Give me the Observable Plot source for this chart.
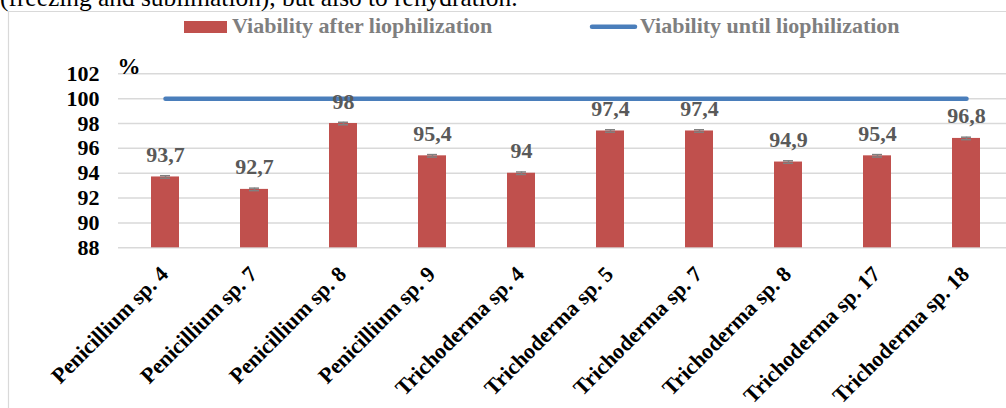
<!DOCTYPE html>
<html><head><meta charset="utf-8">
<script src="https://cdn.jsdelivr.net/npm/d3@7"></script>
<script src="https://cdn.jsdelivr.net/npm/@observablehq/plot@0.6"></script>
<style>
html,body{margin:0;padding:0;background:#fff;}
#wrap{position:relative;width:1006px;height:408px;overflow:hidden;font-family:"Liberation Serif","Times New Roman",serif;}
#wrap svg{position:absolute;left:0;top:0;}
</style></head><body><div id="wrap"></div>
<script>
// ---- data ----
const strains = ["Penicillium sp. 4","Penicillium sp. 7","Penicillium sp. 8","Penicillium sp. 9","Trichoderma sp. 4","Trichoderma sp. 5","Trichoderma sp. 7","Trichoderma sp. 8","Trichoderma sp. 17","Trichoderma sp. 18"];
const afterValues = [93.7, 92.7, 98, 95.4, 94, 97.4, 97.4, 94.9, 95.4, 96.8];
const untilValues = [100, 100, 100, 100, 100, 100, 100, 100, 100, 100];
const errValues = [0.1, 0.1, 0.1, 0.1, 0.1, 0.1, 0.1, 0.1, 0.1, 0.1];
const yTicks = [88, 90, 92, 94, 96, 98, 100, 102];
const seriesNames = ["Viability after liophilization", "Viability until liophilization"];
const yUnit = "%";
const contextText = "(freezing and sublimation), but also to rehydration.";

// ---- styles ----
const font = '"Liberation Serif","Times New Roman",serif';
const colAfter = "#c0504d";
const colUntil = "#4a7ebb";

const data = strains.map((s, i) => ({
  strain: s, after: afterValues[i], until: untilValues[i], err: errValues[i],
  label: String(afterValues[i]).replace(".", ",")
}));

const wrap = document.getElementById("wrap");

// background decoration: clipped context text (cut by the page edge as in the source) + chart frame
const deco = d3.create("svg").attr("width", 1006).attr("height", 408);
deco.append("text").attr("x", 0).attr("y", 5.5).attr("font-family", font).attr("font-size", 25.4).attr("fill", "#000").text(contextText);
deco.append("path").attr("d", "M8.5,408V11.5H1006").attr("fill", "none").attr("stroke", "#d9d9d9").attr("stroke-width", 1.2);
wrap.appendChild(deco.node());

const txt = {fontFamily: font, fontSize: 22, fontWeight: "bold"};

const chart = Plot.plot({
  width: 1006, height: 408,
  marginLeft: 118, marginRight: 0, marginTop: 73, marginBottom: 161,
  style: {background: "transparent", fontFamily: font, overflow: "visible"},
  x: {domain: strains, range: [118.3, 1012.3], paddingInner: 0.687, paddingOuter: 0.3435, axis: null},
  y: {domain: [88, 102], range: [247.3, 73.3], axis: null},
  marks: [
    Plot.gridY(yTicks, {stroke: "#d9d9d9", strokeOpacity: 1, strokeWidth: 1.5}),
    Plot.barY(data, {x: "strain", y1: 88, y2: "after", fill: colAfter}),
    Plot.ruleX(data, {x: "strain", y1: d => d.after - d.err, y2: d => d.after + d.err, stroke: "#808080", strokeWidth: 1.5}),
    Plot.tickY(data, {x: "strain", y: d => d.after - d.err, stroke: "#808080", strokeWidth: 1.5, insetLeft: 9, insetRight: 9}),
    Plot.tickY(data, {x: "strain", y: d => d.after + d.err, stroke: "#808080", strokeWidth: 1.5, insetLeft: 9, insetRight: 9}),
    Plot.line(data, {x: "strain", y: "until", stroke: colUntil, strokeWidth: 4.5, strokeLinecap: "round"}),
    Plot.axisY(yTicks, {tickSize: 0, tickPadding: 19, ...txt, fill: "#000", label: null}),
    Plot.text([yUnit], {frameAnchor: "top-left", textAnchor: "start", lineAnchor: "bottom", dx: -1, dy: 0, ...txt, fontSize: 23, fill: "#000"}),
    Plot.text(data, {x: "strain", y: "after", text: "label", lineAnchor: "bottom", dy: -15, ...txt, fill: "#595959"}),
    Plot.text(data, {x: "strain", text: "strain", frameAnchor: "bottom", rotate: -45, textAnchor: "end", lineAnchor: "bottom", dx: 4, dy: 28, ...txt, fill: "#000"})
  ]
});
wrap.appendChild(chart);

// legend
const leg = d3.create("svg").attr("width", 1006).attr("height", 60);
leg.append("rect").attr("x", 184).attr("y", 21).attr("width", 43).attr("height", 12).attr("fill", colAfter);
leg.append("text").attr("x", 232).attr("y", 33.3).attr("font-family", font).attr("font-size", 22).attr("font-weight", "bold").attr("fill", "#7f7f7f").text(seriesNames[0]);
leg.append("line").attr("x1", 592).attr("x2", 635).attr("y1", 26.7).attr("y2", 26.7).attr("stroke", colUntil).attr("stroke-width", 4.5).attr("stroke-linecap", "round");
leg.append("text").attr("x", 640).attr("y", 33.3).attr("font-family", font).attr("font-size", 22).attr("font-weight", "bold").attr("fill", "#7f7f7f").text(seriesNames[1]);
wrap.appendChild(leg.node());
</script></body></html>
